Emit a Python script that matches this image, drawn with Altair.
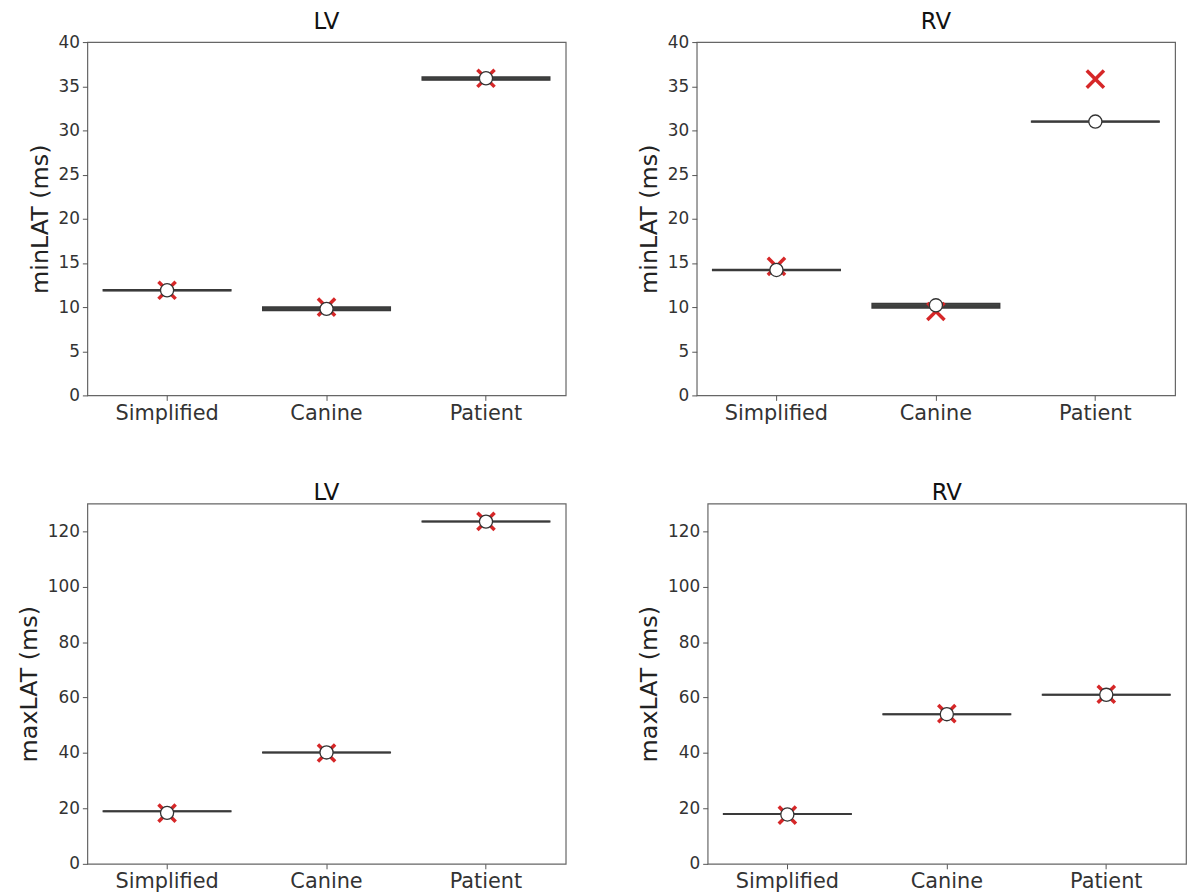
import altair as alt
import pandas as pd

categories = ["Simplified", "Canine", "Patient"]

# minLAT, LV
lv_min_median = [11.9, 9.8, 35.8]
lv_min_q1 = [11.85, 9.6, 35.7]
lv_min_q3 = [11.95, 10.0, 36.05]
lv_min_mean = [11.9, 9.8, 35.9]
lv_min_ref = [11.9, 10.0, 35.9]
# minLAT, RV
rv_min_median = [14.2, 10.1, 31.0]
rv_min_q1 = [14.15, 9.9, 30.95]
rv_min_q3 = [14.25, 10.4, 31.05]
rv_min_mean = [14.2, 10.2, 31.0]
rv_min_ref = [14.6, 9.5, 35.8]
# maxLAT, LV
lv_max_median = [19.0, 40.2, 123.5]
lv_max_q1 = [18.9, 40.1, 123.4]
lv_max_q3 = [19.1, 40.3, 123.6]
lv_max_mean = [18.4, 40.2, 123.5]
lv_max_ref = [18.3, 40.0, 123.6]
# maxLAT, RV
rv_max_median = [18.0, 54.0, 61.0]
rv_max_q1 = [17.9, 53.9, 60.9]
rv_max_q3 = [18.1, 54.1, 61.1]
rv_max_mean = [17.8, 54.0, 61.0]
rv_max_ref = [17.6, 54.2, 61.2]

top_ticks = [0, 5, 10, 15, 20, 25, 30, 35, 40]
bottom_ticks = [0, 20, 40, 60, 80, 100, 120]

X_PATH = "M-1,-1L1,1M-1,1L1,-1"
W = 482


def panel(title, ytitle, med, q1, q3, mean, ref, domain, ticks, h):
    df = pd.DataFrame({
        "cat": categories, "median": med, "q1": q1, "q3": q3,
        "mean": mean, "ref": ref,
    })
    x = alt.X("cat:N", sort=categories,
              scale=alt.Scale(paddingInner=0, paddingOuter=0),
              axis=alt.Axis(title=None, labelAngle=0, labelFontSize=21,
                            labelPadding=2))
    yscale = alt.Scale(domain=domain, nice=False, zero=True)
    base = alt.Chart(df)
    box = base.mark_bar(width=alt.RelativeBandSize(0.8), color="#474a48",
                        stroke="#3a3a3a", strokeWidth=1.5).encode(
        x=x,
        y=alt.Y("q1:Q", scale=yscale,
                axis=alt.Axis(title=ytitle, values=ticks, labelFontSize=17)),
        y2="q3:Q",
    )
    medline = base.mark_tick(size=W / 3 * 0.8, thickness=2,
                             color="#3a3a3a").encode(
        x=x, y=alt.Y("median:Q", scale=yscale))
    refm = base.mark_point(shape=X_PATH, size=300, filled=False,
                           stroke="#d62728", strokeWidth=3.5,
                           opacity=1).encode(
        x=x, y=alt.Y("ref:Q", scale=yscale))
    meanm = base.mark_point(shape="circle", size=175, filled=True,
                            fill="white", stroke="#333333",
                            strokeWidth=1.3, opacity=1).encode(
        x=x, y=alt.Y("mean:Q", scale=yscale))
    return alt.layer(box, medline, refm, meanm).properties(
        width=W, height=h,
        title=alt.TitleParams(title, fontSize=23, font="DejaVu Sans",
                              fontWeight="normal", color="#111"))


p1 = panel("LV", "minLAT (ms)", lv_min_median, lv_min_q1, lv_min_q3,
           lv_min_mean, lv_min_ref, [0, 40], top_ticks, 356)
p2 = panel("RV", "minLAT (ms)", rv_min_median, rv_min_q1, rv_min_q3,
           rv_min_mean, rv_min_ref, [0, 40], top_ticks, 356)
p3 = panel("LV", "maxLAT (ms)", lv_max_median, lv_max_q1, lv_max_q3,
           lv_max_mean, lv_max_ref, [0, 130], bottom_ticks, 363)
p4 = panel("RV", "maxLAT (ms)", rv_max_median, rv_max_q1, rv_max_q3,
           rv_max_mean, rv_max_ref, [0, 130], bottom_ticks, 363)

chart = alt.vconcat(
    alt.hconcat(p1, p2, spacing=70),
    alt.hconcat(p3, p4, spacing=70),
    spacing=57,
).properties(
    padding={"left": 16, "top": 7, "right": 0, "bottom": 0},
    background="white",
).configure_view(
    stroke="#666666", strokeWidth=1.2,
).configure_axis(
    labelFont="DejaVu Sans", labelColor="#333333",
    titleFont="DejaVu Sans", titleFontSize=24, titleFontWeight="normal",
    titleColor="#222222", domain=False, grid=False, tickColor="#555555",
    tickSize=5, labelPadding=3, titlePadding=6,
).configure_title(anchor="middle", offset=-1)

chart.save("out.html", embed_options={"renderer": "svg", "actions": False})
